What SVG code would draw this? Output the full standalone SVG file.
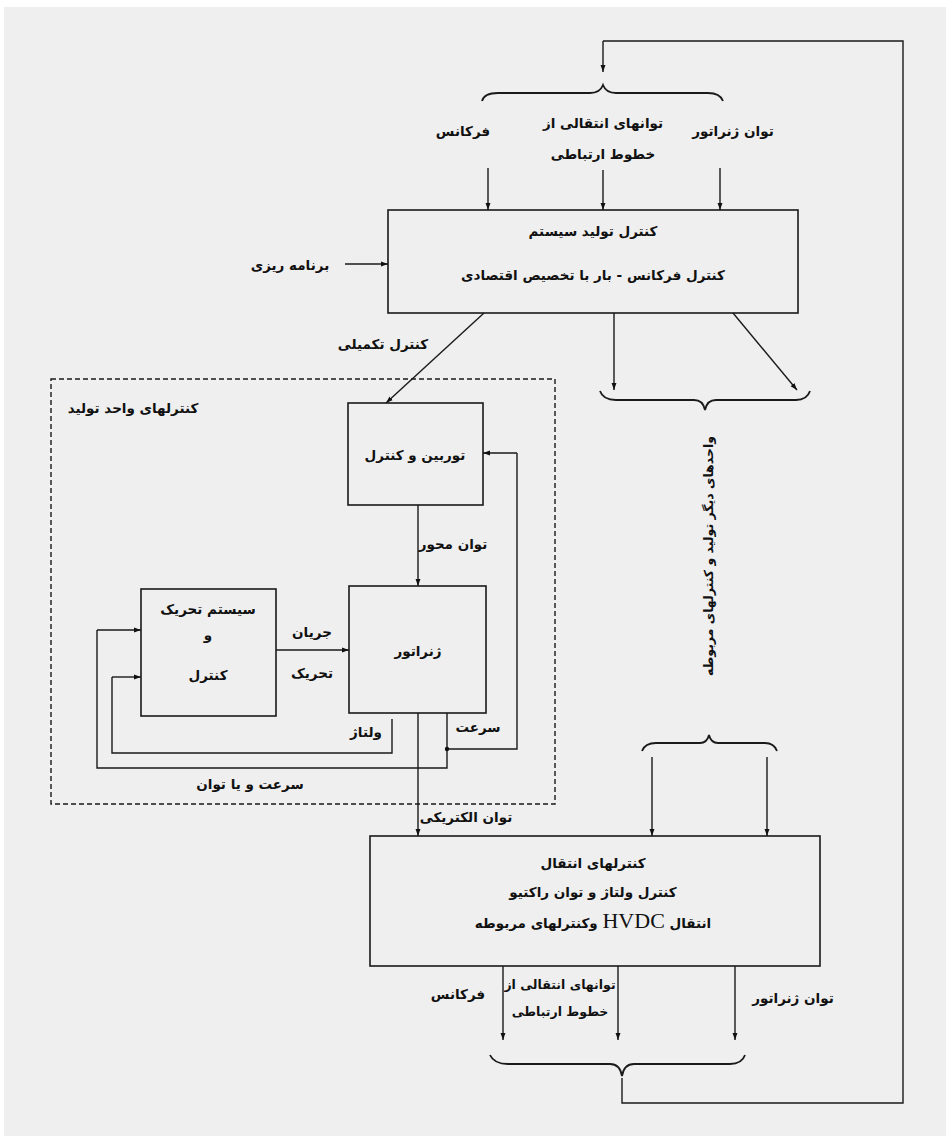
<svg xmlns="http://www.w3.org/2000/svg" width="946" height="1136" viewBox="0 0 946 1136">
<defs>
<marker id="ah" viewBox="0 0 10 10" refX="10" refY="5" markerWidth="7" markerHeight="7" markerUnits="userSpaceOnUse" orient="auto">
<path d="M0,1.5 L10,5 L0,8.5 Z" fill="#111"/>
</marker>
<style>
.bx{fill:none;stroke:#1a1a1a;stroke-width:1.6}
.ln{fill:none;stroke:#1a1a1a;stroke-width:1.4}
.ar{fill:none;stroke:#1a1a1a;stroke-width:1.4;marker-end:url(#ah)}
.br{fill:none;stroke:#1a1a1a;stroke-width:1.8}
.t{font-family:"DejaVu Sans","Noto Sans",sans-serif;font-weight:bold;font-size:13.5px;fill:#111;text-anchor:middle;direction:rtl}
.v{font-size:12.5px}
.s{font-family:"Liberation Serif",serif;font-weight:normal;font-size:22px}
</style>
</defs>
<rect x="0" y="0" width="946" height="1136" fill="#ffffff"/>
<rect x="4" y="7" width="942" height="1129" fill="#efefef"/>

<g id="connectors">
<path class="ln" d="M622,1078 L622,1103 L903,1103 L903,41 L603,41"/>
<path class="ar" d="M603,41 L603,72"/>
<path class="ar" d="M488,168 L488,210"/>
<path class="ar" d="M603,170 L603,210"/>
<path class="ar" d="M720,168 L720,210"/>
<path class="ar" d="M345,264 L388,264"/>
<path class="ar" d="M484,313 L386,403"/>
<path class="ar" d="M614,313 L614,390"/>
<path class="ar" d="M733,313 L797,390"/>
<path class="ar" d="M418,505 L418,586"/>
<path class="ar" d="M276,650 L349,650"/>
<path class="ln" d="M447,749 L517,749 L517,453"/>
<path class="ar" d="M517,453 L483,453"/>
<path class="ln" d="M447,713 L447,768 L97,768 L97,630"/>
<path class="ar" d="M97,630 L141,630"/>
<circle cx="447" cy="749" r="2.2" fill="#111"/>
<path class="ln" d="M392,719 L392,753 L112,753 L112,677"/>
<path class="ar" d="M112,677 L141,677"/>
<path class="ar" d="M418,713 L418,836"/>
<path class="ar" d="M652,757 L652,836"/>
<path class="ar" d="M767,757 L767,836"/>
<path class="ar" d="M503,966 L503,1040"/>
<path class="ar" d="M618,966 L618,1040"/>
<path class="ar" d="M735,966 L735,1040"/>
<path class="br" d="M482,101 Q484,93 498,93 L590,93 Q600,93 603,85 Q606,93 616,93 L708,93 Q720,93 723,101"/>
<path class="br" d="M600,391 Q603,400 616,400 L694,400 Q703,400 705,410 Q707,400 716,400 L796,400 Q807,400 810,391"/>
<path class="br" d="M642,751 Q645,743 656,743 L700,743 Q707,743 709,735 Q711,743 718,743 L765,743 Q774,743 777,751"/>
<path class="br" d="M490,1055 Q494,1064 508,1064 L610,1064 Q620,1064 622,1076 Q624,1064 634,1064 L730,1064 Q742,1064 745,1055"/>
</g>

<g id="unit-controls">
<rect x="51" y="379" width="504" height="425" fill="none" stroke="#1a1a1a" stroke-width="1.4" stroke-dasharray="5,3"/>
<text class="t" x="133" y="413">کنترلهای واحد تولید</text>
</g>

<g id="system-control">
<rect class="bx" x="388" y="210" width="410" height="103"/>
<text class="t" x="593" y="236">کنترل تولید سیستم</text>
<text class="t" x="593" y="280">کنترل فرکانس - بار با تخصیص اقتصادی</text>
</g>

<g id="turbine">
<rect class="bx" x="348" y="403" width="135" height="102"/>
<text class="t" x="415" y="460">توربین و کنترل</text>
</g>

<g id="generator">
<rect class="bx" x="349" y="586" width="137" height="127"/>
<text class="t" x="418" y="656">ژنراتور</text>
</g>

<g id="exciter">
<rect class="bx" x="141" y="589" width="135" height="127"/>
<text class="t" x="208" y="614">سیستم تحریک</text>
<text class="t" x="208" y="640">و</text>
<text class="t" x="208" y="680">کنترل</text>
</g>

<g id="transmission">
<rect class="bx" x="370" y="836" width="450" height="130"/>
<text class="t" x="593" y="868">کنترلهای انتقال</text>
<text class="t" x="593" y="897">کنترل ولتاژ و توان راکتیو</text>
<text class="t" x="593" y="928">انتقال <tspan class="s">HVDC</tspan> وکنترلهای مربوطه</text>
</g>

<g id="labels">
<text class="t" x="463" y="136">فرکانس</text>
<text class="t" x="603" y="128">توانهای انتقالی از</text>
<text class="t" x="603" y="159">خطوط ارتباطی</text>
<text class="t" x="733" y="136">توان ژنراتور</text>
<text class="t" x="290" y="270">برنامه ریزی</text>
<text class="t" x="383" y="349">کنترل تکمیلی</text>
<text class="t" x="453" y="549">توان محور</text>
<text class="t" x="312" y="637">جریان</text>
<text class="t" x="312" y="678">تحریک</text>
<text class="t" x="366" y="737">ولتاژ</text>
<text class="t" x="478" y="732">سرعت</text>
<text class="t" x="250" y="789">سرعت و یا توان</text>
<text class="t" x="466" y="822">توان الکتریکی</text>
<text class="t v" transform="translate(713,556) rotate(-90)" x="0" y="0">واحدهای دیگر تولید و کنترلهای مربوطه</text>
<text class="t" x="458" y="999">فرکانس</text>
<text class="t v" x="560" y="989">توانهای انتقالی از</text>
<text class="t v" x="560" y="1016">خطوط ارتباطی</text>
<text class="t" x="793" y="1003">توان ژنراتور</text>
</g>
</svg>
